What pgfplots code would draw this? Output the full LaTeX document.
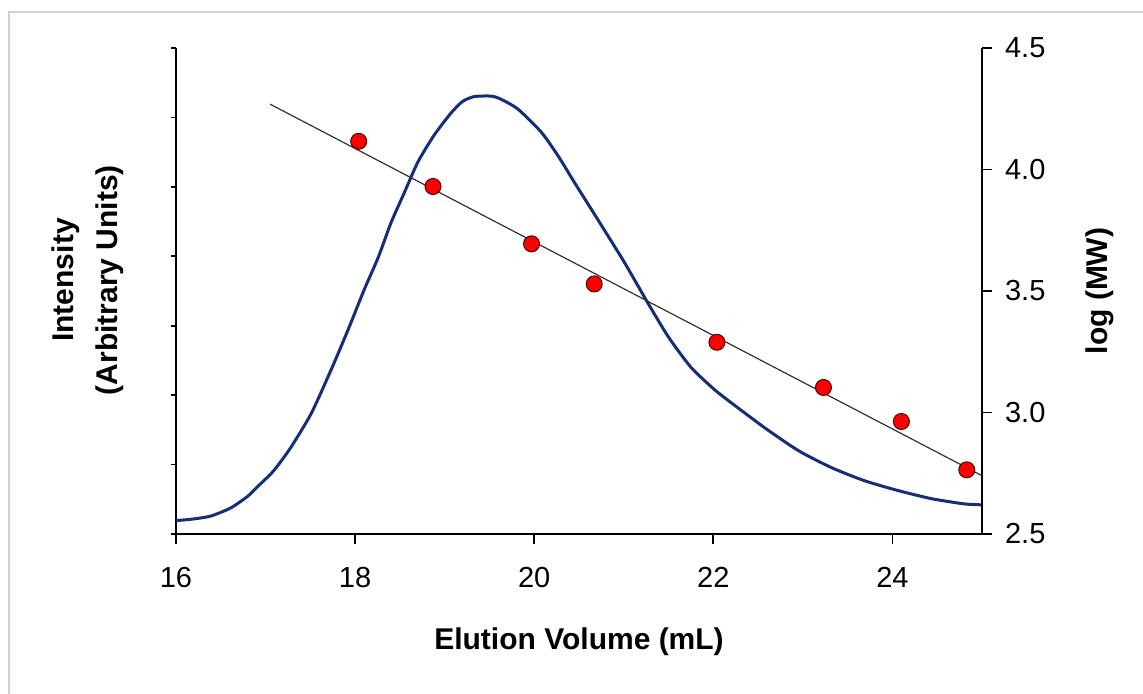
\documentclass[border=0pt]{standalone}
\usepackage{fontspec}
\setmainfont{Liberation Sans}
\usepackage{pgfplots}
\pgfplotsset{compat=1.18}
\definecolor{curve}{RGB}{22,45,120}
\definecolor{frame}{RGB}{208,208,208}
\definecolor{fitline}{RGB}{50,50,50}
\begin{document}
\begin{tikzpicture}[x=1pt,y=1pt]
\path[use as bounding box] (-88,-80) rectangle (483.5,267);
\draw[line width=1.2pt, frame] (-83.5,-80) -- (-83.5,261) -- (483.5,261);
\begin{axis}[
  at={(0,0)}, anchor=south west, scale only axis,
  width=403pt, height=243pt,
  xmin=16, xmax=25, ymin=2.5, ymax=4.5,
  axis x line*=bottom, axis y line*=left,
  xtick=\empty,
  ytick={2.5,2.785714,3.071429,3.357143,3.642857,3.928571,4.214286,4.5},
  yticklabels={},
  tick align=outside, major tick length=2.5pt,
  axis line style={line width=0.9pt, black},
  every tick/.style={line width=0.9pt, black},
  clip=false,
]
\addplot[curve, line width=1.5pt, smooth, tension=0.4] table {
x y
16.00 2.555
16.20 2.562
16.39 2.574
16.61 2.607
16.80 2.655
16.92 2.698
17.09 2.760
17.28 2.855
17.51 2.996
17.73 3.174
17.92 3.339
18.10 3.504
18.26 3.640
18.40 3.780
18.55 3.905
18.70 4.030
18.88 4.140
19.07 4.232
19.20 4.280
19.33 4.300
19.52 4.302
19.63 4.289
19.82 4.248
20.08 4.153
20.27 4.054
20.45 3.946
20.64 3.835
20.83 3.723
21.01 3.616
21.27 3.450
21.50 3.310
21.75 3.186
22.01 3.095
22.20 3.040
22.57 2.938
22.95 2.843
23.32 2.773
23.69 2.719
24.07 2.678
24.44 2.645
24.80 2.624
25.00 2.620
};
\end{axis}
\begin{axis}[
  at={(0,0)}, anchor=south west, scale only axis,
  width=403pt, height=243pt,
  xmin=16, xmax=25, ymin=2.5, ymax=4.5,
  axis x line*=bottom, axis y line*=right,
  xtick={16,18,20,22,24},
  ytick={2.5,3.0,3.5,4.0,4.5},
  tick align=outside, major tick length=5pt,
  axis line style={line width=0.9pt, black},
  every tick/.style={line width=0.9pt, black},
  ticklabel style={font=\fontsize{14.5}{17}\selectfont},
  xticklabel style={yshift=-8pt},
  yticklabel style={xshift=3pt},
  yticklabel style={/pgf/number format/.cd, fixed, fixed zerofill, precision=1},
  /pgf/number format/assume math mode=true,
  clip=false,
]
\addplot[fitline, line width=0.6pt] coordinates {(17.05,4.269) (25,2.74)};
\addplot[only marks, mark=*, mark size=4pt, mark options={fill=red, draw=black!70!red, line width=0.5pt}] coordinates {
(18.04,4.116) (18.87,3.930) (19.97,3.694) (20.67,3.529) (22.04,3.289) (23.23,3.103) (24.10,2.963) (24.83,2.764)
};
\end{axis}
\node[font=\fontsize{15}{18}\selectfont\bfseries] at (201.5,-54) {Elution Volume (mL)};
\node[font=\fontsize{15}{22}\selectfont\bfseries, rotate=90, align=center] at (-44,127) {Intensity\\(Arbitrary Units)};
\node[font=\fontsize{15}{18}\selectfont\bfseries, rotate=90] at (462,121.5) {log (MW)};
\end{tikzpicture}
\end{document}
